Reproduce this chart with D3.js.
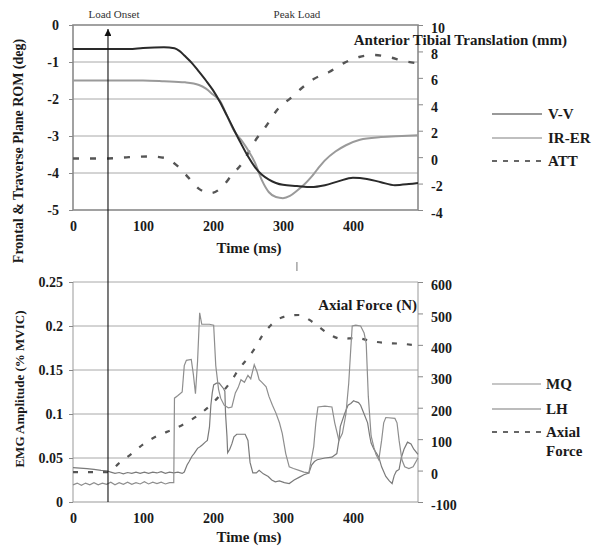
<!DOCTYPE html>
<html><head><meta charset="utf-8">
<script src="https://cdn.jsdelivr.net/npm/d3@7"></script>
<style>
html,body{margin:0;padding:0;background:#fff;}
svg{display:block;font-family:"Liberation Serif","Times New Roman",serif;}
</style></head>
<body><svg id="c" width="602" height="551"></svg>
<script>
// ---------- DATA ----------
const xTicks = [0, 100, 200, 300, 400];
const romTicks = [0, -1, -2, -3, -4, -5];
const attTicks = [10, 8, 6, 4, 2, 0, -2, -4];
const emgTicks = [0, 0.05, 0.1, 0.15, 0.2, 0.25];
const forceTicks = [600, 500, 400, 300, 200, 100, 0, -100];

// Top chart: [time ms, value]
const vvSeries = [[0,-0.65],[80,-0.65],[100,-0.62],[130,-0.6],[145,-0.63],[152,-0.7],[160,-0.84],[170,-1.03],[180,-1.26],[190,-1.5],[200,-1.76],[210,-2.08],[220,-2.45],[230,-2.83],[240,-3.2],[250,-3.55],[260,-3.84],[270,-4.05],[280,-4.18],[290,-4.27],[300,-4.32],[320,-4.35],[340,-4.38],[360,-4.33],[380,-4.22],[400,-4.13],[420,-4.16],[440,-4.25],[460,-4.33],[480,-4.3],[493,-4.27]];
const irerSeries = [[0,-1.5],[100,-1.5],[130,-1.52],[160,-1.55],[180,-1.62],[190,-1.72],[200,-1.88],[210,-2.05],[220,-2.45],[230,-2.85],[240,-3.1],[250,-3.38],[260,-3.72],[270,-4.2],[280,-4.52],[290,-4.65],[300,-4.68],[310,-4.62],[320,-4.48],[330,-4.32],[340,-4.12],[350,-3.88],[360,-3.66],[375,-3.42],[390,-3.25],[410,-3.1],[440,-3.03],[470,-3.0],[493,-2.98]];
const attSeries = [[0,-0.1],[50,-0.1],[80,0.0],[110,0.05],[130,-0.05],[150,-0.7],[165,-1.55],[180,-2.4],[197,-2.72],[213,-2.26],[227,-1.35],[242,-0.45],[259,1.14],[275,2.28],[294,3.72],[311,4.47],[327,5.23],[344,5.91],[366,6.44],[387,7.12],[409,7.58],[430,7.73],[451,7.58],[473,7.27],[493,7.1]];

// Bottom chart
const mqSeries = [[0,0.0195],[6,0.0215],[12,0.019],[18,0.0215],[24,0.0195],[30,0.022],[36,0.0195],[42,0.0215],[48,0.02],[54,0.0225],[60,0.0195],[66,0.022],[72,0.02],[78,0.0225],[84,0.02],[90,0.022],[96,0.0205],[102,0.023],[108,0.0205],[114,0.0225],[120,0.021],[126,0.0225],[132,0.0205],[138,0.022],[144,0.022],[145,0.118],[150,0.121],[156,0.125],[159,0.155],[162,0.161],[169,0.162],[172,0.145],[175,0.123],[178,0.16],[181,0.215],[184,0.202],[195,0.202],[201,0.201],[204,0.155],[208,0.128],[211,0.118],[216,0.11],[222,0.107],[227,0.108],[232,0.124],[236,0.13],[240,0.139],[245,0.136],[250,0.144],[254,0.14],[259,0.156],[263,0.148],[266,0.139],[270,0.136],[276,0.131],[280,0.12],[285,0.11],[290,0.101],[295,0.09],[299,0.078],[304,0.055],[309,0.04],[315,0.038],[323,0.036],[330,0.034],[337,0.033],[341,0.05],[344,0.063],[347,0.09],[350,0.108],[360,0.109],[370,0.108],[374,0.09],[380,0.07],[385,0.078],[390,0.1],[394,0.135],[397,0.175],[399,0.2],[404,0.201],[411,0.2],[416,0.192],[419,0.18],[422,0.12],[426,0.075],[430,0.062],[433,0.054],[437,0.048],[441,0.07],[444,0.09],[447,0.096],[460,0.095],[463,0.09],[466,0.07],[470,0.048],[474,0.04],[480,0.038],[486,0.04],[493,0.05]];
const lhSeries = [[0,0.039],[10,0.0385],[20,0.038],[30,0.037],[40,0.036],[48,0.0355],[54,0.034],[60,0.0325],[66,0.0335],[72,0.032],[78,0.0335],[84,0.0325],[90,0.034],[96,0.0325],[102,0.034],[108,0.0325],[114,0.034],[120,0.033],[126,0.0345],[132,0.0325],[138,0.034],[144,0.033],[150,0.034],[156,0.0325],[159,0.034],[163,0.042],[166,0.046],[170,0.052],[173,0.055],[178,0.061],[182,0.063],[185,0.065],[189,0.068],[192,0.07],[195,0.085],[197,0.11],[199,0.124],[201,0.133],[205,0.135],[209,0.135],[212,0.132],[215,0.129],[217,0.126],[218,0.1],[220,0.075],[221,0.056],[224,0.06],[227,0.066],[230,0.074],[234,0.077],[240,0.077],[246,0.077],[250,0.07],[253,0.045],[257,0.033],[262,0.033],[266,0.036],[272,0.032],[279,0.029],[284,0.025],[289,0.023],[295,0.024],[302,0.022],[309,0.021],[316,0.025],[323,0.028],[330,0.031],[337,0.033],[341,0.042],[345,0.046],[349,0.048],[360,0.05],[370,0.051],[377,0.055],[380,0.07],[382,0.086],[388,0.1],[393,0.11],[397,0.112],[401,0.115],[404,0.114],[408,0.113],[411,0.11],[416,0.1],[421,0.09],[424,0.075],[426,0.067],[430,0.06],[434,0.055],[437,0.051],[441,0.04],[447,0.029],[452,0.024],[456,0.021],[459,0.03],[462,0.035],[466,0.037],[469,0.05],[473,0.06],[478,0.068],[483,0.066],[487,0.06],[493,0.054]];
const forceSeries = [[0,-5],[50,-5],[66,24],[85,56],[101,85],[123,113],[144,132],[164,155],[185,186],[201,218],[216,256],[227,288],[237,323],[250,358],[261,393],[270,428],[283,463],[301,489],[323,495],[344,470],[366,434],[384,419],[404,422],[426,412],[447,406],[466,404],[493,398]];

const loadOnsetTime = 50;
const peakLoadTime = 320;
const topLegend = [{label:"V-V"},{label:"IR-ER"},{label:"ATT"}];
const botLegend = [{label:"MQ"},{label:"LH"},{label:["Axial","Force"]}];

// ---------- LAYOUT ----------
const svg = d3.select("#c");
const X0 = 73, X1 = 418, T_MAX = 493;
const x = d3.scaleLinear().domain([0, T_MAX]).range([X0, X1]);
const yTop = d3.scaleLinear().domain([-5, 0]).range([210, 25]);
const yAtt = d3.scaleLinear().domain([-4, 10]).range([210, 25]);
const yEmg = d3.scaleLinear().domain([0, 0.25]).range([502, 282]);
const yF = d3.scaleLinear().domain([-100, 600]).range([502, 282]);

const txt = "#1a1a1a";
const grid = "#a8a8a8";

function styleAxis(g, size) {
  g.selectAll("text").attr("font-family","Liberation Serif, serif").attr("font-weight","bold").attr("font-size", size).attr("fill", txt);
  g.selectAll("line").attr("stroke", "#888");
  g.select(".domain").remove();
}

// ---- TOP CHART ----
const topG = svg.append("g");
topG.selectAll("line.g").data([-1,-2,-3,-4]).enter().append("line")
  .attr("x1", X0).attr("x2", X1).attr("y1", d=>yTop(d)).attr("y2", d=>yTop(d))
  .attr("stroke", grid).attr("stroke-width", 1);
topG.append("rect").attr("x", X0).attr("y", yTop(0)).attr("width", X1-X0).attr("height", yTop(-5)-yTop(0))
  .attr("fill","none").attr("stroke","#8a8a8a").attr("stroke-width",1.6);

topG.append("g").attr("transform", `translate(${X0},0)`)
  .call(d3.axisLeft(yTop).tickValues(romTicks).tickSize(4).tickPadding(10).tickFormat(d=>String(d)))
  .call(g=>styleAxis(g, 14));
topG.append("g").attr("transform", `translate(${X1},0)`)
  .call(d3.axisRight(yAtt).tickValues(attTicks).tickSize(5).tickPadding(8).tickFormat(d=>String(d)))
  .call(g=>{styleAxis(g, 14); g.selectAll("text").attr("dy","0.5em");});
topG.append("g").attr("transform", `translate(0,${yTop(-5)})`)
  .call(d3.axisBottom(x).tickValues(xTicks).tickSize(0).tickPadding(11).tickFormat(d=>String(d)))
  .call(g=>styleAxis(g, 14));

const lineTop = d3.line().x(d=>x(d[0])).y(d=>yTop(d[1])).curve(d3.curveMonotoneX);
const lineAtt = d3.line().x(d=>x(d[0])).y(d=>yAtt(d[1])).curve(d3.curveMonotoneX);
topG.append("path").datum(attSeries).attr("d", lineAtt).attr("fill","none").attr("stroke","#555").attr("stroke-width",2.4).attr("stroke-dasharray","6,11");
topG.append("path").datum(irerSeries).attr("d", lineTop).attr("fill","none").attr("stroke","#9a9a9a").attr("stroke-width",2);
topG.append("path").datum(vvSeries).attr("d", lineTop).attr("fill","none").attr("stroke","#2a2a2a").attr("stroke-width",2);

topG.append("text").attr("x", 567).attr("y", 45).attr("text-anchor","end")
  .attr("font-weight","bold").attr("font-size",15).attr("fill",txt).text("Anterior Tibial Translation (mm)");
topG.append("text").attr("x", 249).attr("y", 253).attr("text-anchor","middle")
  .attr("font-weight","bold").attr("font-size",15).attr("fill",txt).text("Time (ms)");
topG.append("text").attr("transform","translate(18,151) rotate(-90)").attr("text-anchor","middle").attr("dominant-baseline","central")
  .attr("font-weight","bold").attr("font-size",14).attr("fill",txt).text("Frontal & Traverse Plane ROM (deg)");

const tl = [{y:114, stroke:"#777", w:1.3, dash:null},{y:138, stroke:"#aaa", w:1.3, dash:null},{y:161, stroke:"#666", w:2, dash:"5,6"}];
topLegend.forEach((d,i)=>{
  const s = tl[i];
  topG.append("line").attr("x1",492).attr("x2",542).attr("y1",s.y).attr("y2",s.y)
    .attr("stroke",s.stroke).attr("stroke-width",s.w).attr("stroke-dasharray",s.dash);
  topG.append("text").attr("x",548).attr("y",s.y+5).attr("font-weight","bold").attr("font-size",15).attr("fill",txt).text(d.label);
});

// ---- BOTTOM CHART ----
const botG = svg.append("g");
botG.selectAll("line.g").data([0.05,0.1,0.15,0.2,0.25]).enter().append("line")
  .attr("x1", X0).attr("x2", X1).attr("y1", d=>yEmg(d)).attr("y2", d=>yEmg(d))
  .attr("stroke", grid).attr("stroke-width", 1);
botG.append("line").attr("x1",X0).attr("x2",X0).attr("y1",yEmg(0.25)).attr("y2",yEmg(0)).attr("stroke","#999").attr("stroke-width",1);
botG.append("line").attr("x1",X1).attr("x2",X1).attr("y1",yEmg(0.25)).attr("y2",yEmg(0)).attr("stroke","#999").attr("stroke-width",1);
botG.append("line").attr("x1",X0).attr("x2",X1).attr("y1",yEmg(0)).attr("y2",yEmg(0)).attr("stroke","#999").attr("stroke-width",1.2);

botG.append("g").attr("transform", `translate(${X0},0)`)
  .call(d3.axisLeft(yEmg).tickValues(emgTicks).tickSize(4).tickPadding(6).tickFormat(d=>String(d)))
  .call(g=>styleAxis(g, 14));
botG.append("g").attr("transform", `translate(${X1},0)`)
  .call(d3.axisRight(yF).tickValues(forceTicks).tickSize(5).tickPadding(8).tickFormat(d=>String(d)))
  .call(g=>{styleAxis(g, 14); g.selectAll("text").attr("dy","0.55em");});
botG.append("g").attr("transform", `translate(0,${yEmg(0)})`)
  .call(d3.axisBottom(x).tickValues(xTicks).tickSize(0).tickPadding(11).tickFormat(d=>String(d)))
  .call(g=>styleAxis(g, 14));

const lineEmg = d3.line().x(d=>x(d[0])).y(d=>yEmg(d[1]));
const lineF = d3.line().x(d=>x(d[0])).y(d=>yF(d[1])).curve(d3.curveMonotoneX);
botG.append("path").datum(forceSeries).attr("d", lineF).attr("fill","none").attr("stroke","#555").attr("stroke-width",2.2).attr("stroke-dasharray","5,10");
botG.append("path").datum(lhSeries).attr("d", lineEmg).attr("fill","none").attr("stroke","#7a7a7a").attr("stroke-width",1.2);
botG.append("path").datum(mqSeries).attr("d", lineEmg).attr("fill","none").attr("stroke","#8e8e8e").attr("stroke-width",1.2);

botG.append("text").attr("x", 417).attr("y", 310).attr("text-anchor","end")
  .attr("font-weight","bold").attr("font-size",15).attr("fill",txt).text("Axial Force (N)");
botG.append("text").attr("x", 249).attr("y", 542).attr("text-anchor","middle")
  .attr("font-weight","bold").attr("font-size",15).attr("fill",txt).text("Time (ms)");
botG.append("text").attr("transform","translate(19,389) rotate(-90)").attr("text-anchor","middle").attr("dominant-baseline","central")
  .attr("font-weight","bold").attr("font-size",13).attr("fill",txt).text("EMG Amplitude (% MVIC)");

const bl = [{y:384, stroke:"#8e8e8e", w:1.2, dash:null},{y:409, stroke:"#7a7a7a", w:1.2, dash:null},{y:432, stroke:"#666", w:2, dash:"5,6"}];
botLegend.forEach((d,i)=>{
  const s = bl[i];
  botG.append("line").attr("x1",492).attr("x2",541).attr("y1",s.y).attr("y2",s.y)
    .attr("stroke",s.stroke).attr("stroke-width",s.w).attr("stroke-dasharray",s.dash);
  const lab = Array.isArray(d.label) ? d.label : [d.label];
  lab.forEach((t,j)=>{
    botG.append("text").attr("x",546).attr("y",s.y+5+j*19).attr("font-weight","bold").attr("font-size",15).attr("fill",txt).text(t);
  });
});

// ---- ANNOTATIONS ----
const defs = svg.append("defs");
defs.append("marker").attr("id","arr").attr("viewBox","0 0 10 10").attr("refX",10).attr("refY",5)
  .attr("markerWidth",7).attr("markerHeight",7).attr("markerUnits","userSpaceOnUse").attr("orient","auto")
  .append("path").attr("d","M0,0 L10,5 L0,10 z").attr("fill","#111");
svg.append("line").attr("x1",x(loadOnsetTime)).attr("x2",x(loadOnsetTime)).attr("y1",yEmg(0)).attr("y2",29)
  .attr("stroke","#111").attr("stroke-width",1.1).attr("marker-end","url(#arr)");
svg.append("text").attr("x",x(loadOnsetTime)+6).attr("y",18).attr("text-anchor","middle")
  .attr("font-size",11).attr("fill","#333").text("Load Onset");
svg.append("text").attr("x",x(peakLoadTime)).attr("y",18).attr("text-anchor","middle")
  .attr("font-size",11).attr("fill","#333").text("Peak Load");
svg.append("line").attr("x1",x(peakLoadTime)).attr("x2",x(peakLoadTime)).attr("y1",262).attr("y2",271)
  .attr("stroke","#777").attr("stroke-width",1);
</script></body></html>
